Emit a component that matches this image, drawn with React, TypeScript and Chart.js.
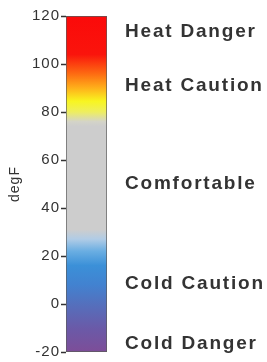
import React, { useEffect, useRef } from "react";
import { Chart, registerables } from "chart.js";

Chart.register(...registerables);

const axisMin = -20;
const axisMax = 120;
const tickStep = 20;
const axisTitle = "degF";
const zoneLabels = ["Heat Danger", "Heat Caution", "Comfortable", "Cold Caution", "Cold Danger"];
const zoneValues = [113.5, 91, 50, 8.5, -16.5];
const stopValues = [120, 104, 96, 90, 84.5, 80, 76, 74, 31, 27, 22, 16, 8, 0, -10, -20];
const stopColors = [
  "#fb0a0a", "#fa140c", "#fd6a12", "#ffb01a", "#f8f520", "#eeee60", "#d4d4c8", "#cdcdcd",
  "#cdcdcd", "#b0cce6", "#6aaee2", "#3b90d8", "#4282d0", "#5470bd", "#6a5aa8", "#7d4d98",
];

const FONT = "'Liberation Sans', Arial, Helvetica, sans-serif";

const spacingPlugin = {
  id: "letterSpacingPlugin",
  beforeDraw(chart: any) {
    chart.ctx.letterSpacing = "1px";
  },
  afterDatasetsDraw(chart: any) {
    chart.ctx.letterSpacing = "1.8px";
  },
  afterDraw(chart: any) {
    chart.ctx.letterSpacing = "0px";
  },
};

export default function App() {
  const canvasRef = useRef<HTMLCanvasElement | null>(null);

  useEffect(() => {
    document.body.style.margin = "0";
    const canvas = canvasRef.current;
    if (!canvas) return;

    const gradientFill = (ctx: any) => {
      const chart = ctx.chart;
      const scale = chart.scales && chart.scales.y;
      if (!chart.chartArea || !scale) return "#cdcdcd";
      const y0 = scale.getPixelForValue(axisMax);
      const y1 = scale.getPixelForValue(axisMin);
      const g = chart.ctx.createLinearGradient(0, y0, 0, y1);
      stopValues.forEach((v, i) => {
        g.addColorStop((axisMax - v) / (axisMax - axisMin), stopColors[i]);
      });
      return g;
    };

    const chart = new Chart(canvas, {
      type: "bar",
      data: {
        labels: [""],
        datasets: [
          {
            data: [[axisMin, axisMax]] as any,
            backgroundColor: gradientFill as any,
            borderColor: "#5a5a5a",
            borderWidth: 1,
            borderSkipped: false,
            barPercentage: 1,
            categoryPercentage: 1,
          },
        ],
      },
      options: {
        animation: false,
        responsive: false,
        layout: { padding: { top: 16, bottom: 10, left: 0, right: 0 } },
        plugins: { legend: { display: false }, tooltip: { enabled: false } },
        scales: {
          x: { display: false },
          y: {
            type: "linear",
            position: "left",
            min: axisMin,
            max: axisMax,
            ticks: {
              stepSize: tickStep,
              color: "#333",
              font: { family: FONT, size: 15 },
              padding: 1,
            },
            grid: {
              drawOnChartArea: false,
              drawTicks: true,
              tickLength: 5,
              tickColor: "#333",
              tickWidth: 1.5,
            },
            border: { display: false },
            title: {
              display: true,
              text: axisTitle,
              color: "#333",
              font: { family: FONT, size: 14 },
              padding: { top: 7, bottom: 0 },
            },
            afterFit(s: any) {
              s.width = 66;
              s.paddingTop = 0;
              s.paddingBottom = 0;
            },
          },
          y2: {
            type: "linear",
            position: "right",
            min: axisMin,
            max: axisMax,
            afterBuildTicks(s: any) {
              s.ticks = zoneValues.map((v) => ({ value: v }));
            },
            ticks: {
              autoSkip: false,
              z: 1,
              padding: 18,
              color: "#333",
              font: { family: FONT, size: 19, weight: "bold" },
              callback: (v: any) => zoneLabels[zoneValues.indexOf(Number(v))],
            },
            grid: { display: false, drawTicks: false },
            border: { display: false },
            afterFit(s: any) {
              s.width = 160;
              s.paddingTop = 0;
              s.paddingBottom = 0;
            },
          },
        },
      } as any,
      plugins: [spacingPlugin],
    });

    return () => chart.destroy();
  }, []);

  return (
    <div style={{ width: 267, height: 362, background: "#fff" }}>
      <canvas ref={canvasRef} width={267} height={362} />
    </div>
  );
}
